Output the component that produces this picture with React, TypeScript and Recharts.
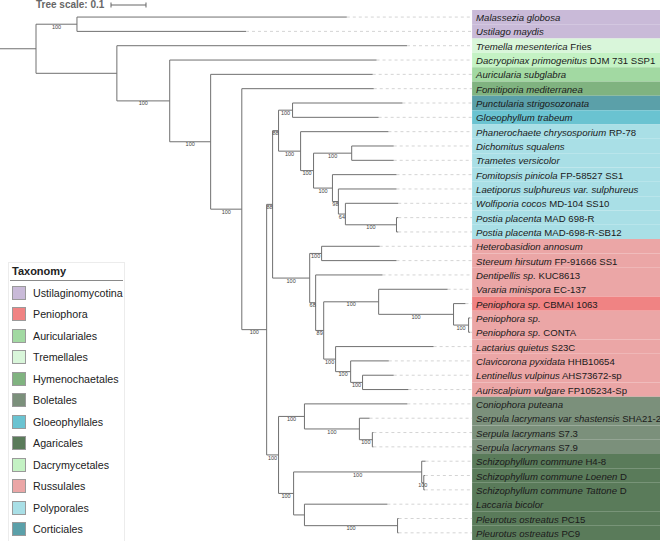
import React from 'react';
import { ScatterChart, Scatter, XAxis, YAxis, ReferenceLine, ReferenceArea } from 'recharts';

// tip order top -> bottom
const LEAF_IDS = [
  'Mglo', 'Umay', 'Tmes', 'Dpri', 'Asub', 'Fmed', 'Pstr', 'Gtra', 'Pchr', 'Dsqu', 'Tver', 'Fpin', 'Lsul',
  'Wcoc', 'Ppl1', 'Ppl2', 'Hann', 'Shir', 'Dent', 'Vmin', 'Pcbm', 'Psp', 'Pcon', 'Lqui', 'Cpyx', 'Lvul',
  'Avul', 'Cput', 'Slsh', 'Sl73', 'Sl79', 'Sc48', 'ScLo', 'ScTa', 'Lbic', 'Po15', 'Po09',
];
const LEAF_SPECIES = [
  'Malassezia globosa', 'Ustilago maydis', 'Tremella mesenterica', 'Dacryopinax primogenitus',
  'Auricularia subglabra', 'Fomitiporia mediterranea', 'Punctularia strigosozonata', 'Gloeophyllum trabeum',
  'Phanerochaete chrysosporium', 'Dichomitus squalens', 'Trametes versicolor', 'Fomitopsis pinicola',
  'Laetiporus sulphureus var. sulphureus', 'Wolfiporia cocos', 'Postia placenta', 'Postia placenta',
  'Heterobasidion annosum', 'Stereum hirsutum', 'Dentipellis sp.', 'Vararia minispora', 'Peniophora sp.',
  'Peniophora sp.', 'Peniophora sp.', 'Lactarius quietus', 'Clavicorona pyxidata', 'Lentinellus vulpinus',
  'Auriscalpium vulgare', 'Coniophora puteana', 'Serpula lacrymans var shastensis', 'Serpula lacrymans',
  'Serpula lacrymans', 'Schizophyllum commune', 'Schizophyllum commune Loenen', 'Schizophyllum commune Tattone',
  'Laccaria bicolor', 'Pleurotus ostreatus', 'Pleurotus ostreatus',
];
const LEAF_STRAIN = [
  '', '', 'Fries', 'DJM 731 SSP1', '', '', '', '', 'RP-78', '', '', 'FP-58527 SS1', '', 'MD-104 SS10',
  'MAD 698-R', 'MAD-698-R-SB12', '', 'FP-91666 SS1', 'KUC8613', 'EC-137', 'CBMAI 1063', '', 'CONTA', 'S23C',
  'HHB10654', 'AHS73672-sp', 'FP105234-Sp', '', 'SHA21-2', 'S7.3', 'S7.9', 'H4-8', 'D', 'D', '', 'PC15', 'PC9',
];
const LEAF_GROUP = [
  'Ustilaginomycotina', 'Ustilaginomycotina', 'Tremellales', 'Dacrymycetales', 'Auriculariales',
  'Hymenochaetales', 'Corticiales', 'Gloeophyllales', 'Polyporales', 'Polyporales', 'Polyporales',
  'Polyporales', 'Polyporales', 'Polyporales', 'Polyporales', 'Polyporales', 'Russulales', 'Russulales',
  'Russulales', 'Russulales', 'Peniophora', 'Russulales', 'Russulales', 'Russulales', 'Russulales',
  'Russulales', 'Russulales', 'Boletales', 'Boletales', 'Boletales', 'Boletales', 'Agaricales', 'Agaricales',
  'Agaricales', 'Agaricales', 'Agaricales', 'Agaricales',
];

const TAXA = [
  'Ustilaginomycotina', 'Peniophora', 'Auriculariales', 'Tremellales', 'Hymenochaetales', 'Boletales',
  'Gloeophyllales', 'Agaricales', 'Dacrymycetales', 'Russulales', 'Polyporales', 'Corticiales',
];
const TAXA_COLORS = [
  '#c9bad8', '#f08383', '#a2d9a2', '#d9f6da', '#80b380', '#7b907b',
  '#6ac3d1', '#5a7b5a', '#c4f2c4', '#eba6a6', '#a9dfe6', '#5ba0a9',
];

// branch lengths (substitutions/site) and bootstrap support
const TREE = `(
 (Mglo:0.771,Umay:0.483)100:0.117,
 (Tmes:0.829,
  (Dpri:0.591,
   (Asub:0.463,
    (Fmed:0.377,
     (
      (
       ((Pstr:0.314,Gtra:0.246)100:0.040,
        (Pchr:0.251,
         ((Dsqu:0.120,Tver:0.120)100:0.109,
          (Fpin:0.183,
           (Lsul:0.166,
            (Wcoc:0.151,(Ppl1:0.005,Ppl2:0.005)100:0.146)64:0.020
           )98:0.017
          )100:0.054
         )100:0.037
        )100:0.063
       )88:0.017,
       ((Hann:0.166,Shir:0.214)100:0.034,
        (Dent:0.191,
         ((Vmin:0.197,(Pcbm:0.034,(Psp:0.004,Pcon:0.004)100:0.043)100:0.214)100:0.157,
          (Lqui:0.280,(Cpyx:0.109,(Lvul:0.089,Avul:0.131)100:0.034)100:0.043)100:0.034
         )89:0.023
        )68:0.017
       )100:0.106
      )88:0.017,
      (
       (Cput:0.294,(Slsh:0.029,(Sl73:0.003,Sl79:0.003)100:0.037)100:0.157)100:0.074,
       ((Sc48:0.011,(ScLo:0.003,ScTa:0.003)100:0.006)100:0.366,
        (Lbic:0.237,(Po15:0.003,Po09:0.003)100:0.266):0.031
       )100:0.043
      )100:0.034
     )100:0.071
    )100:0.089
   )100:0.117
  )100:0.151
 ):0.231
):0.103;`;

const X_DOMAIN = [-0.1029, 1.7829];
const Y_DOMAIN = [-1.19, 36.57];
const LABEL_X = 1.246;
const SCALE_LEN = 0.1;

type TNode = { name: string; support: string; len: number; children: TNode[]; x: number; y: number };

function parseNewick(src: string): TNode {
  const s = src.replace(/\s+/g, '');
  let i = 0;
  const node = (): TNode => {
    const n: TNode = { name: '', support: '', len: 0, children: [], x: 0, y: 0 };
    if (s[i] === '(') {
      i++;
      n.children.push(node());
      while (s[i] === ',') { i++; n.children.push(node()); }
      i++;
    }
    let lab = '';
    while (i < s.length && !':,);'.includes(s[i])) lab += s[i++];
    if (n.children.length) n.support = lab; else n.name = lab;
    if (s[i] === ':') {
      i++;
      let num = '';
      while (i < s.length && !',);'.includes(s[i])) num += s[i++];
      n.len = parseFloat(num);
    }
    return n;
  };
  return node();
}

type Seg = { x1: number; y1: number; x2: number; y2: number };

function layoutTree(root: TNode) {
  const segs: Seg[] = [];
  const boots: { x: number; y: number; v: string }[] = [];
  const tips: { x: number; y: number }[] = [];
  const walk = (n: TNode, px: number) => {
    n.x = px + n.len;
    if (!n.children.length) {
      n.y = LEAF_IDS.indexOf(n.name);
      tips.push({ x: n.x, y: n.y });
    } else {
      n.children.forEach((c) => walk(c, n.x));
      const a = n.children[0].y;
      const b = n.children[n.children.length - 1].y;
      n.y = (a + b) / 2;
      segs.push({ x1: n.x, y1: a, x2: n.x, y2: b });
      if (n.support && n !== root) boots.push({ x: (px + n.x) / 2, y: n.y, v: n.support });
    }
    segs.push({ x1: px, y1: n.y, x2: n.x, y2: n.y });
  };
  walk(root, -root.len);
  return { segs, boots, tips };
}

const { segs, boots, tips } = layoutTree(parseNewick(TREE));

const LEAVES = LEAF_IDS.map((id, i) => ({ x: LABEL_X, y: i, id }));

const colorOf = (g: string) => TAXA_COLORS[TAXA.indexOf(g)];

function LeafLabel(props: any) {
  const { cx, cy, payload } = props;
  const i = payload.y;
  return (
    <text x={cx + 4} y={cy} dominantBaseline="central" fontSize={9.6} fill="#1a1a1a">
      <tspan fontStyle="italic">{LEAF_SPECIES[i]}</tspan>
      {LEAF_STRAIN[i] ? <tspan> {LEAF_STRAIN[i]}</tspan> : null}
    </text>
  );
}

function BootLabel(props: any) {
  const { cx, cy, payload } = props;
  return (
    <text x={cx} y={cy + 2.6} textAnchor="middle" dominantBaseline="central" fontSize={5.5} fill="#444">
      {payload.v}
    </text>
  );
}

export default function App() {
  const xScalePx = 660 / (X_DOMAIN[1] - X_DOMAIN[0]);
  const barX0 = 111;
  const barX1 = barX0 + SCALE_LEN * xScalePx;
  return (
    <div style={{ position: 'relative', width: 660, height: 541, fontFamily: '"Liberation Sans", Arial, sans-serif', background: '#fff', overflow: 'hidden' }}>
      <style>{'body{margin:0}'}</style>
      <ScatterChart width={660} height={541} margin={{ top: 0, right: 0, bottom: 0, left: 0 }}>
        <XAxis type="number" dataKey="x" domain={X_DOMAIN} allowDataOverflow hide />
        <YAxis type="number" dataKey="y" domain={Y_DOMAIN} allowDataOverflow reversed hide />
        {LEAVES.map((l, i) => (
          <ReferenceArea
            key={`row-${l.id}`}
            x1={LABEL_X}
            x2={X_DOMAIN[1]}
            y1={i - 0.5}
            y2={i + 0.5}
            fill={colorOf(LEAF_GROUP[i])}
            fillOpacity={1}
            stroke="none"
            ifOverflow="visible"
          />
        ))}
        {tips.map((t, i) => (
          <ReferenceLine
            key={`lead-${i}`}
            segment={[{ x: t.x, y: t.y }, { x: LABEL_X, y: t.y }]}
            stroke="#d4d4d4"
            strokeDasharray="3 3"
            strokeWidth={1}
          />
        ))}
        {segs.map((s, i) => (
          <ReferenceLine
            key={`br-${i}`}
            segment={[{ x: s.x1, y: s.y1 }, { x: s.x2, y: s.y2 }]}
            stroke="#707070"
            strokeWidth={1}
            ifOverflow="visible"
          />
        ))}
        <Scatter data={boots} isAnimationActive={false} shape={(p: any) => <BootLabel {...p} />} />
        <Scatter data={LEAVES} isAnimationActive={false} shape={(p: any) => <LeafLabel {...p} />} />
      </ScatterChart>

      {/* tree scale */}
      <svg style={{ position: 'absolute', left: 0, top: 0 }} width={200} height={14}>
        <text x={36} y={8} fontSize={10} fontWeight="bold" fill="#666">Tree scale: 0.1</text>
        <line x1={barX0} x2={barX1} y1={5} y2={5} stroke="#666" />
        <line x1={barX0} x2={barX0} y1={2.5} y2={7.5} stroke="#666" />
        <line x1={barX1} x2={barX1} y1={2.5} y2={7.5} stroke="#666" />
      </svg>

      {/* legend */}
      <div style={{ position: 'absolute', left: 8, top: 262, width: 117, height: 290, border: '1px solid #ececec', background: '#fff', boxSizing: 'border-box' }}>
        <div style={{ fontSize: 11, fontWeight: 'bold', color: '#222', padding: '2px 0 0 3px', height: 15 }}>Taxonomy</div>
        <div style={{ borderTop: '1px solid #8a8a8a', margin: '0 1px 0 1px' }} />
        {TAXA.map((t, i) => (
          <div key={t} style={{ position: 'absolute', left: 3, top: 22 + i * 21.5, height: 15, display: 'flex', alignItems: 'center' }}>
            <div style={{ width: 14, height: 14, background: TAXA_COLORS[i], border: '1px solid #9a9a9a', boxSizing: 'border-box' }} />
            <span style={{ marginLeft: 7, fontSize: 10.7, color: '#222', whiteSpace: 'nowrap' }}>{t}</span>
          </div>
        ))}
      </div>
    </div>
  );
}
